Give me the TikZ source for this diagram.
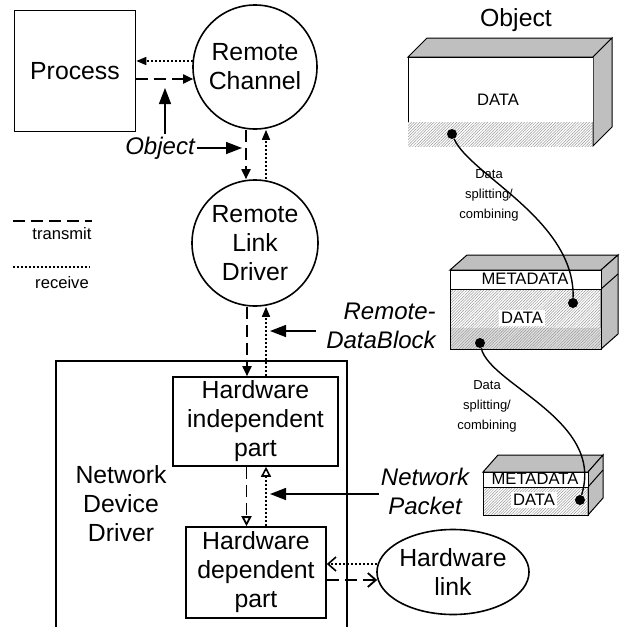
\documentclass[tikz,border=0pt]{standalone}
\usepackage{fontspec}
\setmainfont{Liberation Sans}
\usepackage{tikz}
\usetikzlibrary{arrows.meta,positioning,calc,shapes.geometric,patterns.meta}
\newcommand{\BlockSides}[6]{%
  \filldraw[side] (#1,#2) -- ++(#5,#6) -- (#3+#5,#2+#6) -- (#3,#2) -- cycle;
  \filldraw[side] (#3,#2) -- (#3+#5,#2+#6) -- (#3+#5,#4+#6) -- (#3,#4) -- cycle;
}
\tikzset{
  lbl/.style={font=\fontsize{12.4}{14.5}\selectfont, align=center},
  blk/.style={draw, line width=0.8pt, lbl, inner sep=0pt},
  itl/.style={font=\fontsize{12}{14.5}\selectfont\itshape, align=center, inner sep=1pt},
  tx/.style={line width=0.9pt, dash pattern=on 6pt off 3pt, -{Triangle[length=5pt,width=4.5pt]}},
  rx/.style={line width=0.8pt, dash pattern=on 1pt off 1pt, -{Triangle[length=5pt,width=4pt]}},
  ptr/.style={line width=0.7pt, -{Triangle[length=8pt,width=6pt]}},
  side/.style={fill=black!25, draw, line width=0.5pt},
  hatch/.style={pattern={Lines[angle=45,distance=1pt,line width=0.25pt]}, pattern color=black!40},
  dot/.style={circle, fill, inner sep=0pt, minimum size=5pt},
  small/.style={font=\fontsize{8.3}{10}\selectfont},
  tiny/.style={font=\fontsize{6.5}{10}\selectfont, align=center},
}

\begin{document}
\begin{tikzpicture}[x=0.5pt, y=-0.5pt]
  \useasboundingbox (0,0) rectangle (624,627);

  \node[blk, minimum width=60.5pt, minimum height=60.5pt] (proc) at (75,71) {Process};
  \node[blk, circle, minimum size=62pt] (chan) at (255,67) {Remote\\Channel};
  \node[blk, circle, minimum size=63pt] (rld) at (255,243) {Remote\\Link\\Driver};

  \draw[line width=0.8pt] (56,627) |- (347,361) -- (347,627);
  \node[lbl] (ndd) at (121,504) {Network\\Device\\Driver};
  \node[blk, minimum width=82.5pt, minimum height=44.5pt] (hip) at (255.5,421.5) {Hardware\\independent\\part};
  \node[blk, minimum width=70pt, minimum height=45.5pt] (hdp) at (256,572.5) {Hardware\\dependent\\part};
  \node[blk, ellipse, minimum width=75pt, minimum height=42.5pt] (link) at (453,572) {Hardware\\link};

  \node[itl] (objl) at (160,148) {Object};
  \node[itl, align=right, inner xsep=5pt] (rdb) at (381,326) {Remote-\\DataBlock};
  \node[itl] (np) at (425,491) {Network\\Packet};

  % legend
  \coordinate (lga) at (13,221); \coordinate (lgb) at (92,221);
  \coordinate (lgc) at (13,267); \coordinate (lgd) at (90,267);
  \draw[tx, -] (lga) -- (lgb);
  \draw[rx, -] (lgc) -- (lgd);
  \node[small] (txl) at (62,234) {transmit};
  \node[small] (rxl) at (62,283) {receive};

  \draw[rx] ($(chan.west)+(0.3,-6)$) -- ($(proc.east)+(0,-10)$);
  \draw[tx] ($(proc.east)+(0,8)$) -- ($(chan.west)+(1,12)$);
  \coordinate (objup) at (165,88);
  \coordinate (objrt) at (242,148);
  \draw[ptr] (objl.north -| objup) -- (objup);
  \draw[ptr] (objl.east) -- (objrt);

  \draw[tx] ($(chan.south)+(-9,0)$) -- ($(rld.north)+(-9,0)$);
  \draw[rx] ($(rld.north)+(11,0)$) -- ($(chan.south)+(11,0)$);
  \draw[tx] ($(rld.south)+(-8,0)$) -- ($(hip.north)+(-8.5,0)$);
  \draw[rx] ($(hip.north)+(10.5,0)$) -- ($(rld.south)+(11,0)$);
  \coordinate (rdbtip) at (270,331);
  \draw[ptr] (rdb.west |- rdbtip) -- (rdbtip);

  \draw[tx, -{Triangle[open,length=5pt,width=5pt]}] ($(hip.south)+(-9,0)$) -- ($(hdp.north)+(-9.5,0)$);
  \draw[rx, -{Triangle[open,length=5pt,width=5pt]}] ($(hdp.north)+(10,0)$) -- ($(hip.south)+(10.5,0)$);
  \coordinate (nptip) at (270,494);
  \draw[ptr] (np.west |- nptip) -- (nptip);

  \draw[rx, -{Straight Barb[length=4pt,width=7pt]}] ($(link.west)+(1,-8)$) -- ($(hdp.east)+(0,-8.5)$);
  \draw[tx, -{Straight Barb[length=4pt,width=7pt]}] ($(hdp.east)+(0,7.5)$) -- ($(link.west)+(1,8)$);

  % data blocks
  \node[lbl] (objhdr) at (516,20) {Object};
  \BlockSides{408}{57}{593}{146}{19}{-19}
  \fill[white] (408,57) rectangle (593,122);
  \fill[hatch] (408,122) rectangle (593,146);
  \draw[line width=0.5pt] (408,122) |- (593,57);
  \node[small] (data1) at (498,100) {DATA};

  \BlockSides{450}{270}{601}{349}{17}{-15}
  \draw[line width=0.5pt] (601,289) -- ++(17,-15);
  \fill[white] (450,270) rectangle (601,289);
  \fill[hatch] (450,289) rectangle (601,328);
  \fill[black!12] (450,328) rectangle (601,349);
  \fill[hatch] (450,328) rectangle (601,349);
  \draw[line width=0.5pt] (450,270) rectangle (601,349) (450,289) -- (601,289);
  \node[small] (meta2) at (525,279) {METADATA};
  \node[small, fill=white, inner sep=1pt] (data2) at (522,318) {DATA};

  \BlockSides{483}{472}{588}{515}{15}{-17}
  \draw[line width=0.5pt] (588,487) -- ++(15,-17);
  \fill[white] (483,472) rectangle (588,487);
  \fill[hatch] (483,487) rectangle (588,515);
  \draw[line width=0.5pt] (483,472) rectangle (588,515) (483,487) -- (588,487);
  \node[small] (meta3) at (535,479) {METADATA};
  \node[small, fill=white, inner sep=1pt] (data3) at (534,500) {DATA};

  \node[dot] (d1) at (452,134) {};
  \node[dot] (d2) at (573,303) {};
  \node[dot] (d3) at (480,343) {};
  \node[dot] (d4) at (580,500) {};
  \draw[line width=0.7pt] (d1) .. controls (470,175) and (575,220) .. (d2);
  \draw[line width=0.7pt] (d3) .. controls (490,385) and (605,420) .. (d4);
  \node[tiny] (split1) at (489,195) {Data\\splitting/\\combining};
  \node[tiny] (split2) at (487,406) {Data\\splitting/\\combining};
\end{tikzpicture}
\end{document}
